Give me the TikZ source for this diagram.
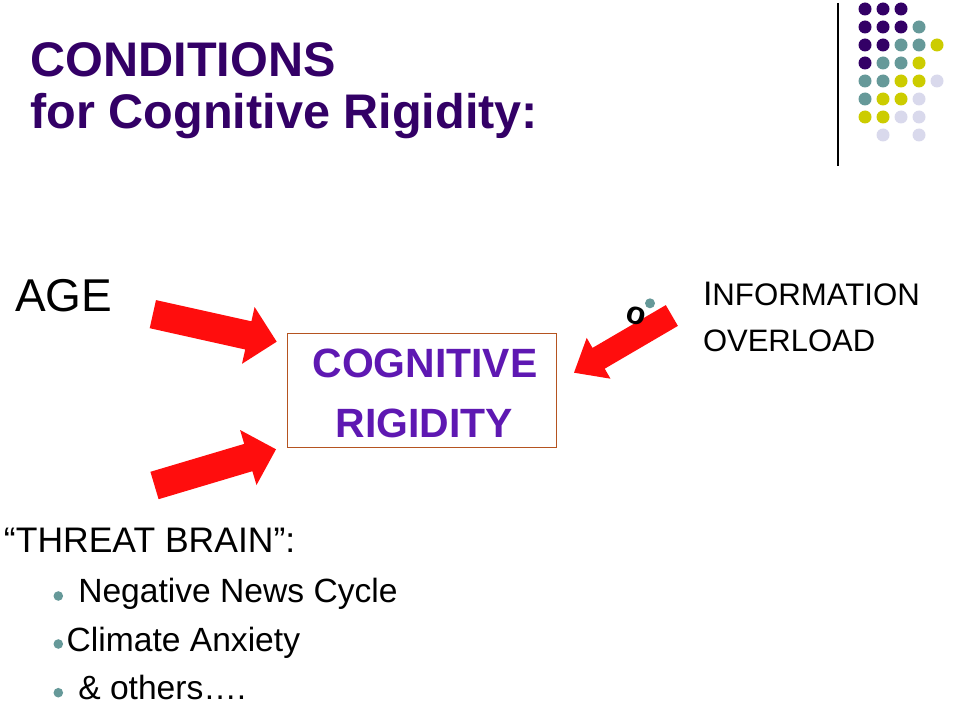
\documentclass[tikz,border=0pt]{standalone}
\usepackage{fontspec}
\setmainfont{Liberation Sans}
\definecolor{titlepurple}{RGB}{51,0,102}
\definecolor{boxpurple}{RGB}{94,24,178}
\definecolor{boxborder}{RGB}{181,84,32}
\definecolor{arrowred}{RGB}{255,13,13}
\definecolor{dotteal}{RGB}{102,153,153}
\definecolor{dotyellow}{RGB}{204,204,0}
\definecolor{dotlav}{RGB}{217,217,236}
\tikzset{
  txt/.style={anchor=base west, inner sep=0pt, outer sep=0pt, text=black},
  titletxt/.style={txt, text=titlepurple, font=\fontsize{48.6}{56}\selectfont\bfseries},
  boxtxt/.style={anchor=base, inner sep=0pt, text=boxpurple, font=\fontsize{40.9}{48}\selectfont\bfseries},
  blockarrow/.style={fill=arrowred, draw=none},
  bul/.style={fill=dotteal, draw=none},
}
\begin{document}
\begin{tikzpicture}[x=1pt,y=-1pt]
\useasboundingbox (0,0) rectangle (961,714);
% title
\node[titletxt] (t1) at (30.5,76.5) {CONDITIONS};
\node[titletxt] (t2) at (30.5,129) {for Cognitive Rigidity:};
% decorative rule and dots
\draw[line width=1.2pt, black] (838,3) -- (838,166);
\foreach \c/\x/\y in {
  titlepurple/865/9, titlepurple/883/9, titlepurple/901/9,
  titlepurple/865/27, titlepurple/883/27, titlepurple/901/27, dotteal/919/27,
  titlepurple/865/45, titlepurple/883/45, dotteal/901/45, dotteal/919/45, dotyellow/937/45,
  titlepurple/865/63, dotteal/883/63, dotteal/901/63, dotyellow/919/63,
  dotteal/865/81, dotteal/883/81, dotyellow/901/81, dotyellow/919/81, dotlav/937/81,
  dotteal/865/99, dotyellow/883/99, dotyellow/901/99, dotlav/919/99,
  dotyellow/865/117, dotyellow/883/117, dotlav/901/117, dotlav/919/117,
  dotlav/883/135, dotlav/919/135}
  \fill[\c] (\x,\y) circle[radius=6.5];
% central box
\node[draw=boxborder, line width=1pt, minimum width=269.4pt, minimum height=113.7pt, inner sep=0pt] (box) at (422,390.2) {};
\node[boxtxt] (cog) at (425,377) {COGNITIVE};
\node[boxtxt] (rig) at (424.5,437) {RIGIDITY};
% labels
\node[txt, font=\fontsize{46}{54}\selectfont] (age) at (15,311) {AGE};
\node[txt] (info) at (703,305) {\fontsize{34}{40}\selectfont I{\fontsize{31.2}{36}\selectfont NFORMATION}};
\node[txt, font=\fontsize{31}{36}\selectfont] (over) at (703,351.7) {OVERLOAD};
\node[txt, font=\fontsize{35.5}{40}\selectfont] (threat) at (4,552.7) {“THREAT BRAIN”:};
\fill[bul] (58.3,596) circle[radius=4.8];
\fill[bul] (58.3,644) circle[radius=4.8];
\fill[bul] (58.3,692.7) circle[radius=4.8];
\node[txt, font=\fontsize{33.6}{40}\selectfont] (b1) at (78.3,602.7) {Negative News Cycle};
\node[txt, font=\fontsize{33.6}{40}\selectfont] (b2) at (66.7,651) {Climate Anxiety};
\node[txt, font=\fontsize{33.6}{40}\selectfont] (b3) at (78.3,699.3) {\& others….};
% block arrows
\fill[blockarrow] (156,300.1) -- (251.4,321.3) -- (254.6,307) -- (276.7,341.7) -- (242,363.8) -- (245.2,349.5) -- (149.7,328.2) -- cycle;
\fill[blockarrow] (150.4,471.8) -- (244.2,443.9) -- (240.1,430) -- (276,449.3) -- (256.5,485.05) -- (252.4,471.2) -- (158.6,499.2) -- cycle;
\fill[blockarrow] (665.8,305.1) -- (592.5,347.9) -- (586.7,337.9) -- (574,372.7) -- (610.5,378.7) -- (604.7,368.7) -- (677.9,325.9) -- cycle;
% stray bullet marker near right arrow
\node[inner sep=0pt, anchor=center, rotate=-15, font=\fontsize{32}{34}\selectfont\bfseries] (oo) at (636,316) {o};
\fill[bul] (650,303.3) circle[radius=5];
\end{tikzpicture}
\end{document}
